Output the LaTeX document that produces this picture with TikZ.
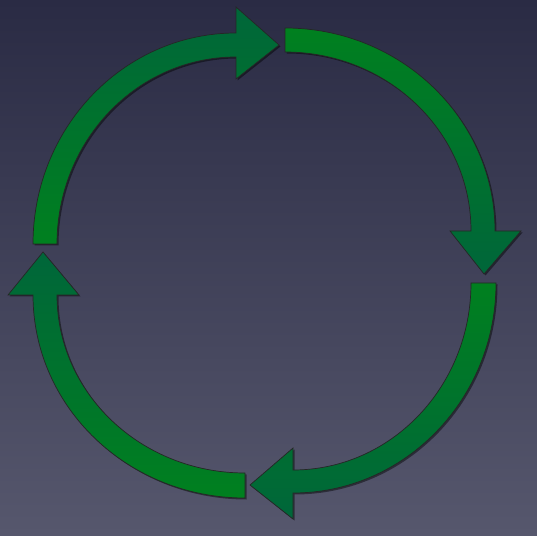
\documentclass[tikz,border=0pt]{standalone}
\usetikzlibrary{shadows}
\definecolor{bgtop}{HTML}{2A2B44}
\definecolor{bgbot}{HTML}{56576D}
\definecolor{gbright}{HTML}{00801F}
\definecolor{gdark}{HTML}{00663A}
\tikzset{
  cyclearrow/.style={draw=black!85, line width=0.7pt, line join=miter,
    drop shadow={shadow xshift=1.5pt, shadow yshift=-1.5pt, opacity=0.45, fill=black}},
}
\begin{document}
\begin{tikzpicture}[x=1pt,y=1pt]
\shade[top color=bgtop, bottom color=bgbot] (0,0) rectangle (537,535);
\useasboundingbox (0,0) rectangle (537,535);
% arrow 1: top-left, pointing right
\path[cyclearrow, shade, shading angle=-45, top color=gdark, bottom color=gbright]
  (33,291) coordinate (a1tail)
  arc[start angle=180, end angle=90, x radius=203, y radius=211]
  -- (236,528) -- (279,490) coordinate (a1tip) -- (236,456) -- (236,478)
  arc[start angle=90, end angle=180, x radius=179, y radius=187] -- cycle;
% arrow 2: top-right, pointing down
\path[cyclearrow, shade, shading angle=45, top color=gbright, bottom color=gdark]
  (285,507) coordinate (a2tail)
  arc[start angle=90, end angle=0, x radius=210, y radius=203]
  -- (521,304) -- (484,261) coordinate (a2tip) -- (450,304) -- (471,304)
  arc[start angle=0, end angle=90, x radius=186, y radius=179] -- cycle;
% arrow 3: bottom-right, pointing left
\path[cyclearrow, shade, shading angle=-45, top color=gbright, bottom color=gdark]
  (496,252) coordinate (a3tail)
  arc[start angle=0, end angle=-90, x radius=203, y radius=210]
  -- (293,16) -- (250,50) coordinate (a3tip) -- (293,87) -- (293,65)
  arc[start angle=-90, end angle=0, x radius=178, y radius=187] -- cycle;
% arrow 4: bottom-left, pointing up
\path[cyclearrow, shade, shading angle=45, top color=gdark, bottom color=gbright]
  (245,37) coordinate (a4tail)
  arc[start angle=270, end angle=180, x radius=212, y radius=203]
  -- (8,240) -- (43,283) coordinate (a4tip) -- (79,240) -- (57,240)
  arc[start angle=180, end angle=270, x radius=188, y radius=178] -- cycle;
\end{tikzpicture}
\end{document}
